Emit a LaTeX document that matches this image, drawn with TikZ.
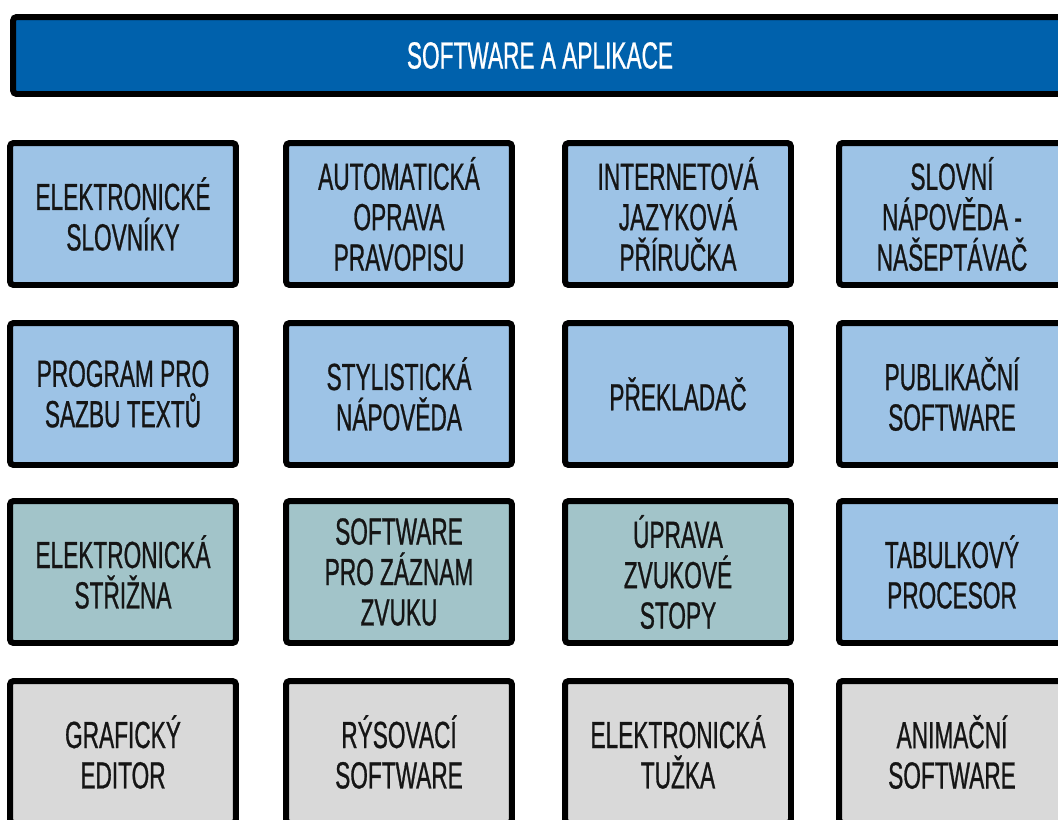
\documentclass[tikz,border=0pt]{standalone}
\usepackage{fontspec}
\setmainfont[FakeStretch=0.6, FakeBold=0.7]{Liberation Sans}
\usetikzlibrary{positioning}
\definecolor{titleblue}{HTML}{0061AC}
\definecolor{lightblue}{HTML}{9DC3E6}
\definecolor{lightteal}{HTML}{A2C4C9}
\definecolor{lightgray}{HTML}{D9D9D9}
\definecolor{textdark}{HTML}{151515}

\begin{document}
\begin{tikzpicture}[x=0.02cm, y=-0.02cm,
    box/.style={draw=black, line width=3.4pt, rounded corners=2pt,
        minimum width=4.52cm, minimum height=2.84cm, inner sep=0pt,
        align=center, text=textdark, font=\fontsize{21.5}{23}\selectfont},
    bluebox/.style={box, fill=lightblue},
    tealbox/.style={box, fill=lightteal},
    graybox/.style={box, fill=lightgray}]
    \useasboundingbox (0,0) rectangle (1058,819);
    \clip (0,0) rectangle (1058,819);
    % header bar
    \node[box, fill=titleblue, text=white, minimum width=21.08cm, minimum height=1.54cm] (title) at (540,55.5) {SOFTWARE A APLIKACE};
    % first row
    \node[bluebox] (slovniky) at (123,214) {ELEKTRONICKÉ\\SLOVNÍKY};
    \node[bluebox] (oprava) at (399,214) {AUTOMATICKÁ\\OPRAVA\\PRAVOPISU};
    \node[bluebox] (prirucka) at (678,214) {INTERNETOVÁ\\JAZYKOVÁ\\PŘÍRUČKA};
    \node[bluebox] (naseptavac) at (952,214) {SLOVNÍ\\NÁPOVĚDA -\\NAŠEPTÁVAČ};
    % second row
    \node[bluebox] (sazba) at (123,394) {PROGRAM PRO\\SAZBU TEXTŮ};
    \node[bluebox] (stylistika) at (399,394) {STYLISTICKÁ\\NÁPOVĚDA};
    \node[bluebox] (prekladac) at (678,394) {PŘEKLADAČ};
    \node[bluebox] (publikace) at (952,394) {PUBLIKAČNÍ\\SOFTWARE};
    % third row
    \node[tealbox] (strizna) at (123,572) {ELEKTRONICKÁ\\STŘIŽNA};
    \node[tealbox] (zaznam) at (399,572) {SOFTWARE\\PRO ZÁZNAM\\ZVUKU};
    \node[tealbox] (stopy) at (678,572) {ÚPRAVA\\ZVUKOVÉ\\STOPY};
    \node[bluebox] (tabulka) at (952,572) {TABULKOVÝ\\PROCESOR};
    % fourth row
    \node[graybox] (grafika) at (123,752) {GRAFICKÝ\\EDITOR};
    \node[graybox] (rysovani) at (399,752) {RÝSOVACÍ\\SOFTWARE};
    \node[graybox] (tuzka) at (678,752) {ELEKTRONICKÁ\\TUŽKA};
    \node[graybox] (animace) at (952,752) {ANIMAČNÍ\\SOFTWARE};
\end{tikzpicture}
\end{document}
